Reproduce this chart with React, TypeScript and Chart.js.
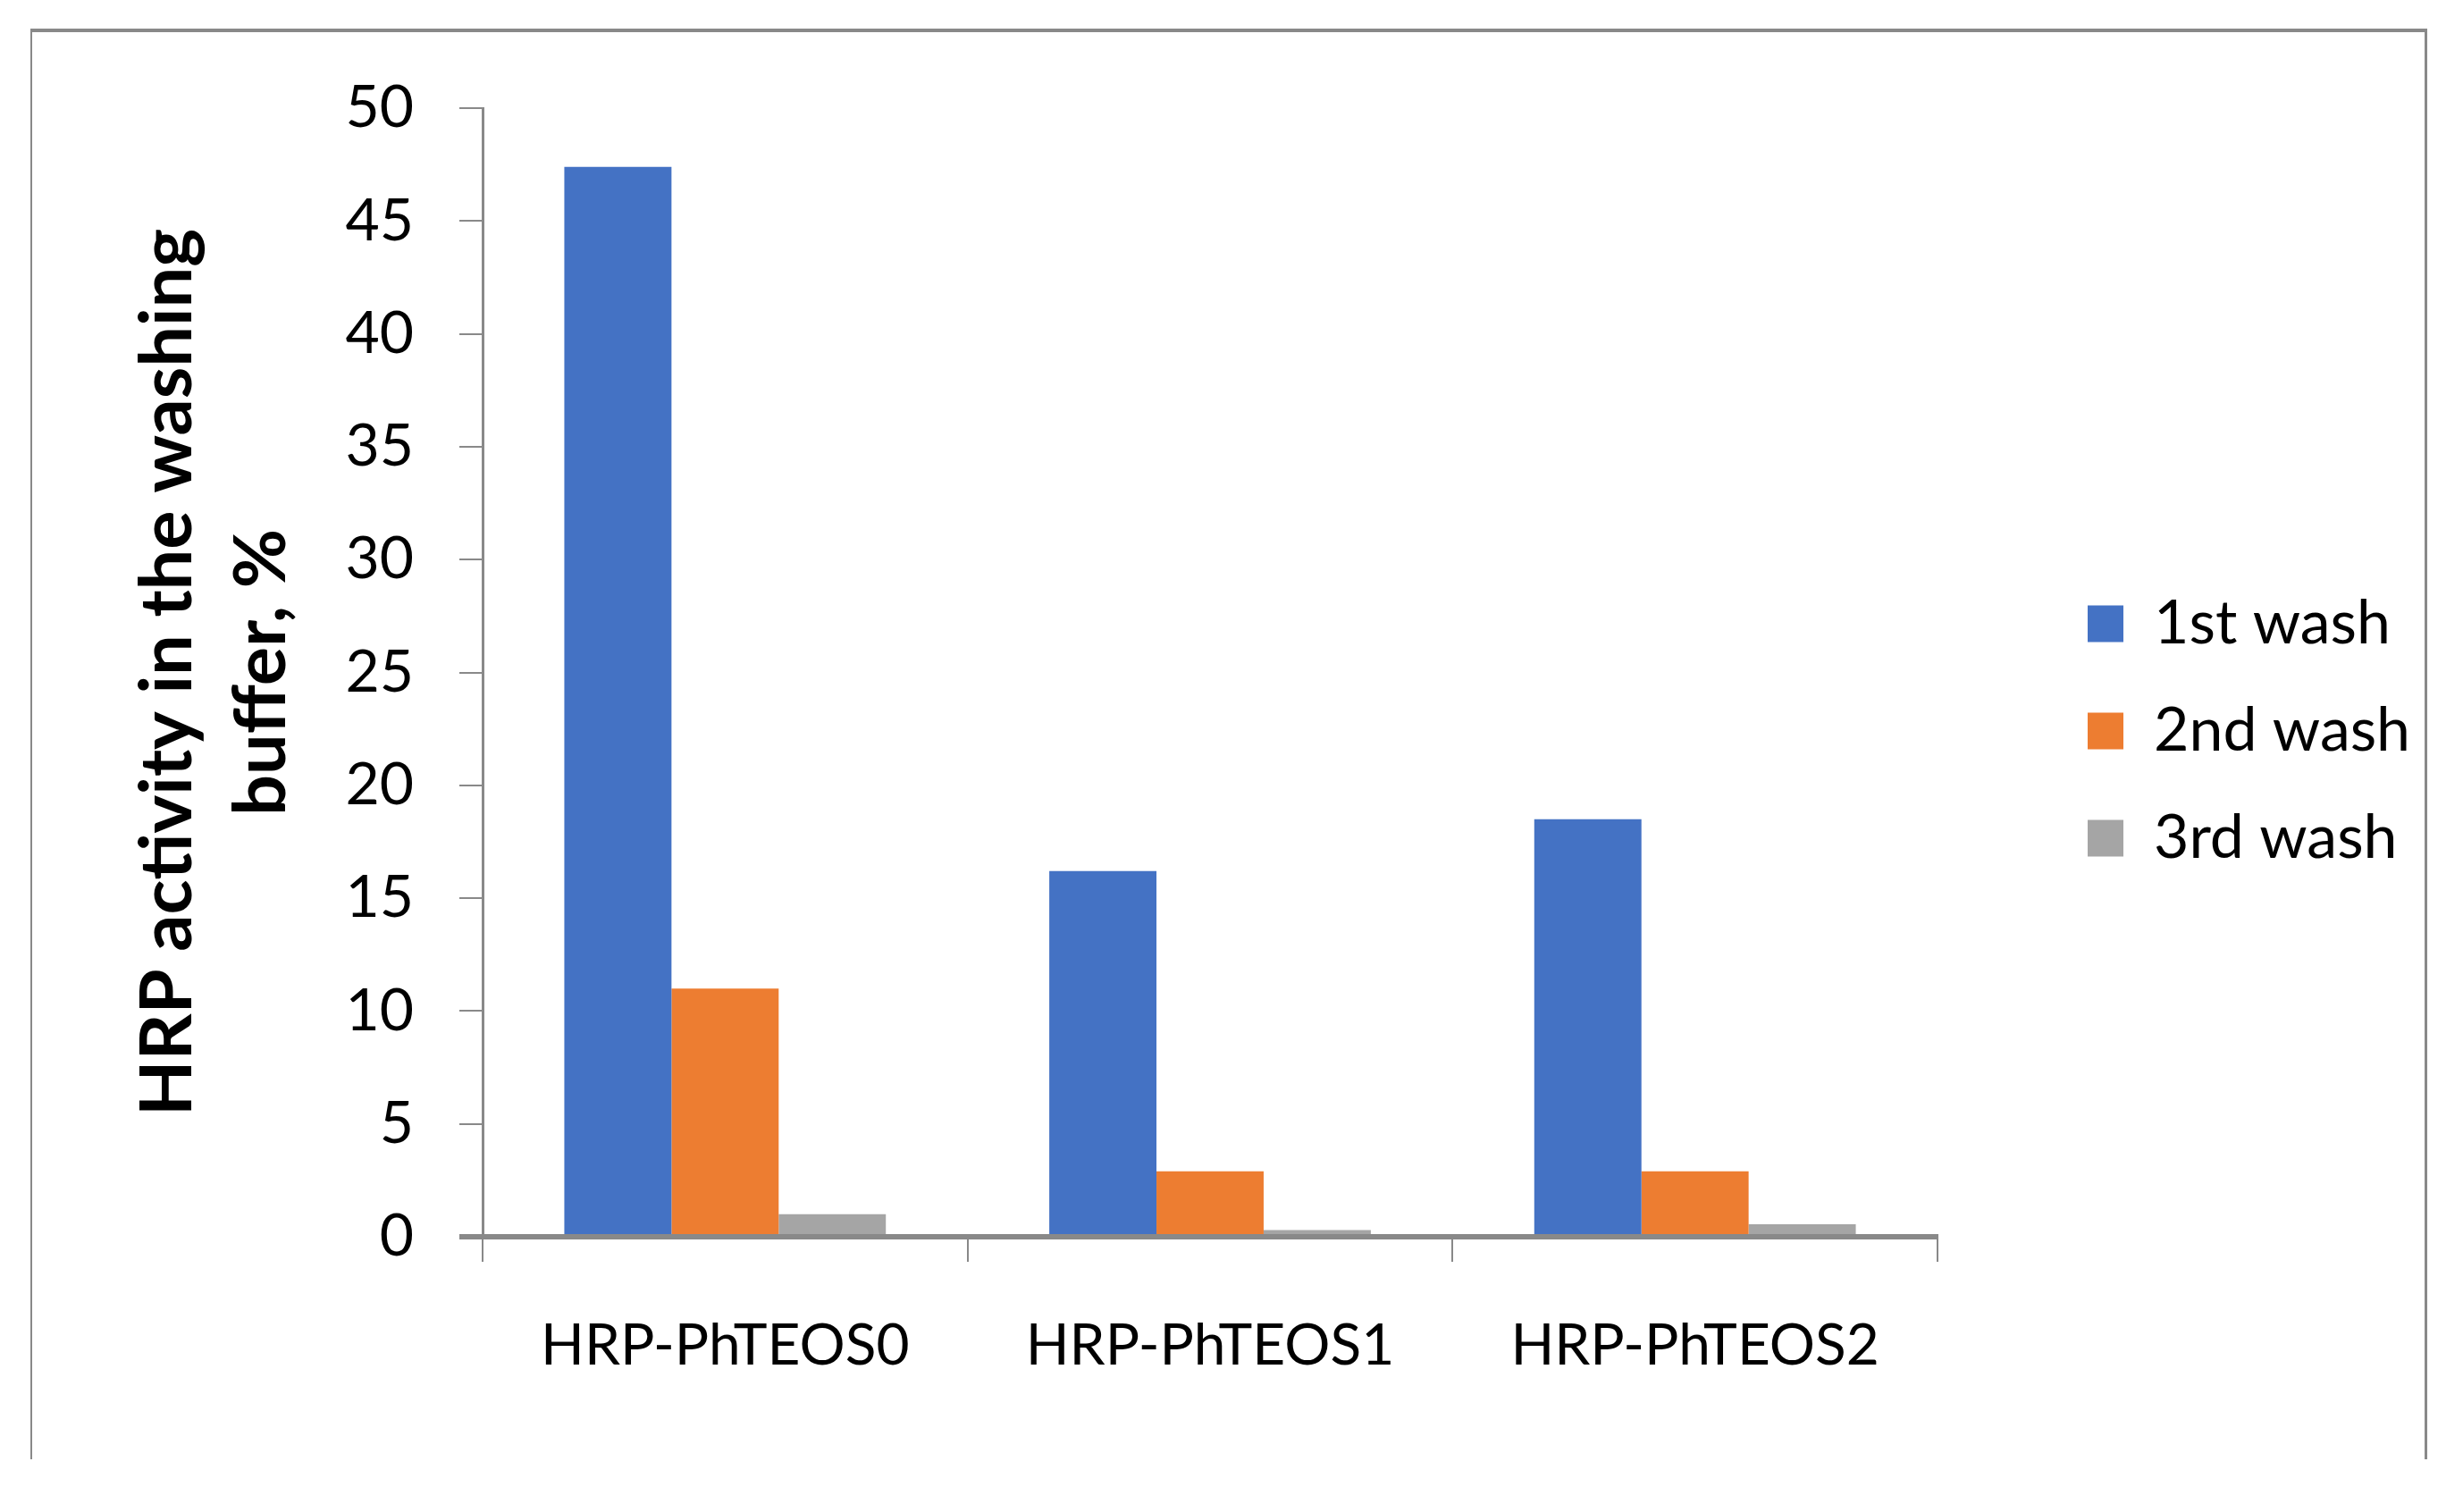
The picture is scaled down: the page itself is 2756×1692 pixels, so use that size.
import React, { useEffect, useRef } from 'react';
import { Chart, registerables } from 'chart.js';

Chart.register(...registerables);

// ---- data ----
const categories = ['HRP-PhTEOS0', 'HRP-PhTEOS1', 'HRP-PhTEOS2'];
const seriesNames = ['1st wash', '2nd wash', '3rd wash'];
const firstWash = [47.4, 16.2, 18.5];
const secondWash = [11.0, 2.9, 2.9];
const thirdWash = [1.0, 0.3, 0.55];
const seriesColors = ['#4472C4', '#ED7D31', '#A5A5A5'];
const yTitleLines = ['HRP activity in the washing', 'buffer, %'];
const yMin = 0;
const yMax = 50;
const yStep = 5;

// ---- layout / style ----
const W = 2756;
const H = 1692;
const FONT = 'Lato';
const AXIS_COLOR = '#898989';
const PLOT_LEFT = 540;
const PLOT_RIGHT = 2168;
const PLOT_TOP = 121;
const PLOT_BOTTOM = 1384;
const LEGEND_MID = 818;
const LEGEND_SIZE = 68;
const LEGEND_PAD = 52;
const BOX_W = 40;
const BOX_H = 41;
const LEGEND_BOX_X = 2336;

export default function App() {
  const ref = useRef<HTMLCanvasElement | null>(null);

  useEffect(() => {
    const canvas = ref.current;
    if (!canvas) return;

    const mctx = document.createElement('canvas').getContext('2d')!;
    mctx.font = `normal normal ${LEGEND_SIZE}px ${FONT}`;
    const maxTextW = Math.max(...seriesNames.map((t) => mctx.measureText(t).width));
    const legendWidth = LEGEND_PAD + BOX_W + LEGEND_SIZE / 2 + maxTextW + 10;
    const legendLeft = LEGEND_BOX_X - LEGEND_PAD;
    const padRight = W - legendLeft - legendWidth;
    const spacerW = legendLeft - PLOT_RIGHT;
    const bottomEdge = 2 * LEGEND_MID; // legend box spans [0, bottomEdge]
    const padBottom = H - bottomEdge;
    const xAxisH = bottomEdge - PLOT_BOTTOM;

    const values = [firstWash, secondWash, thirdWash];

    const chart = new Chart(canvas, {
      type: 'bar',
      data: {
        labels: categories,
        datasets: seriesNames.map((name, i) => ({
          label: name,
          data: values[i],
          xAxisID: 'x',
          yAxisID: 'y',
          backgroundColor: seriesColors[i],
          borderWidth: 0,
          categoryPercentage: 0.663,
          barPercentage: 1,
        })),
      },
      options: {
        responsive: false,
        animation: false,
        devicePixelRatio: 1,
        layout: {
          padding: { top: 0, bottom: padBottom, left: 0, right: padRight },
        },
        plugins: {
          tooltip: { enabled: false },
          legend: {
            position: 'right',
            align: 'center',
            labels: {
              boxWidth: BOX_W,
              boxHeight: BOX_H,
              padding: LEGEND_PAD,
              color: '#000000',
              font: { family: FONT, size: LEGEND_SIZE },
            },
          },
        },
        scales: {
          x: {
            z: 1,
            grid: {
              display: true,
              drawOnChartArea: false,
              drawTicks: true,
              tickLength: 28,
              lineWidth: 2,
              color: AXIS_COLOR,
              offset: true,
            },
            border: { display: true, color: AXIS_COLOR, width: 6 },
            ticks: {
              color: '#000000',
              padding: 56,
              font: { family: FONT, size: 64 },
              maxRotation: 0,
              autoSkip: false,
            },
            afterFit: (s: any) => {
              s.height = xAxisH;
            },
          },
          xT: {
            type: 'linear',
            axis: 'x',
            position: 'top',
            display: true,
            grid: { display: false, drawTicks: false },
            border: { display: false },
            ticks: { display: false },
            afterFit: (s: any) => {
              s.height = PLOT_TOP;
            },
          },
          y: {
            min: yMin,
            max: yMax,
            grid: {
              display: true,
              drawOnChartArea: false,
              drawTicks: true,
              tickLength: 26,
              lineWidth: (c: any) => (c.tick && c.tick.value === 0 ? 6 : 2),
              color: AXIS_COLOR,
            },
            border: { display: true, color: AXIS_COLOR, width: 3 },
            ticks: {
              stepSize: yStep,
              color: '#000000',
              padding: 51,
              font: { family: FONT, size: 66 },
            },
            title: {
              display: true,
              text: yTitleLines,
              color: '#000000',
              font: { family: FONT, size: 81, weight: 'bold', lineHeight: '105px' },
              padding: { top: 135, bottom: 0 },
            },
            afterFit: (s: any) => {
              s.width = PLOT_LEFT;
            },
          },
          yR: {
            type: 'linear',
            axis: 'y',
            position: 'right',
            display: true,
            grid: { display: false, drawTicks: false },
            border: { display: false },
            ticks: { display: false },
            afterFit: (s: any) => {
              s.width = spacerW;
            },
          },
        },
      } as any,
    });

    return () => {
      chart.destroy();
    };
  }, []);

  return (
    <div style={{ position: 'absolute', left: 0, top: 0, width: W, height: H, background: '#ffffff' }}>
      <div
        style={{
          position: 'absolute',
          left: 34,
          top: 32,
          width: 2716 - 34,
          height: 1633 - 32,
          boxSizing: 'border-box',
          borderTop: `4px solid ${AXIS_COLOR}`,
          borderLeft: `2px solid ${AXIS_COLOR}`,
          borderRight: `3px solid ${AXIS_COLOR}`,
        }}
      />
      <canvas
        ref={ref}
        width={W}
        height={H}
        style={{ position: 'absolute', left: 0, top: 0, width: W, height: H }}
      />
    </div>
  );
}
